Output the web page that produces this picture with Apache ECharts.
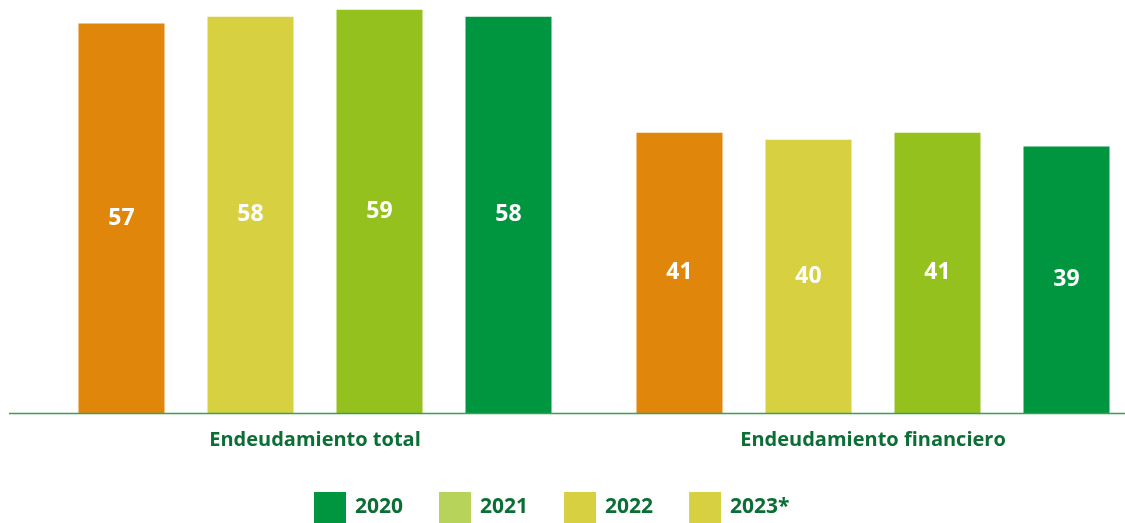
<!DOCTYPE html>
<html>
<head>
<meta charset="utf-8">
<script src="https://cdn.jsdelivr.net/npm/echarts@6/dist/echarts.min.js"></script>
<style>
  html, body { margin: 0; padding: 0; background: #fff; }
  #chart { width: 1125px; height: 523px; }
</style>
</head>
<body>
<div id="chart"></div>
<script>
// categories (x axis)
const categories = ['Endeudamiento total', 'Endeudamiento financiero']
// legend entries / years
const years = ['2020', '2021', '2022', '2023*']
// values per year, one per category
const values2020 = [57, 41]
const values2021 = [58, 40]
const values2022 = [59, 41]
const values2023 = [58, 39]

// bar colours as drawn, legend swatch colours as drawn
const barColors = ['#e0860a', '#d7d041', '#95c11f', '#009640']
const legendColors = ['#009640', '#b8d35a', '#d7d041', '#d7d041']

const seriesValues = [values2020, values2021, values2022, values2023]

const FONT = '"Open Sans", Lato, sans-serif'

const chart = echarts.init(document.getElementById('chart'))

const option = {
  backgroundColor: '#fff',
  animation: false,
  grid: {
    top: 3,
    height: 410,
    left: 36,
    width: 1116,
    outerBoundsMode: 'none'
  },
  legend: {
    top: 492,
    left: 314,
    padding: 0,
    itemWidth: 32,
    itemHeight: 31,
    itemGap: 36,
    icon: 'rect',
    data: years.map((y, i) => ({ name: y, itemStyle: { color: legendColors[i] } })),
    textStyle: {
      color: '#0b6e35',
      fontSize: 21,
      fontWeight: 'bold',
      fontFamily: FONT,
      padding: [0, 0, 0, 4],
      width: 58
    }
  },
  xAxis: {
    type: 'category',
    data: categories,
    axisLine: { show: false },
    axisTick: { show: false },
    axisLabel: {
      margin: 17,
      color: '#0b6e35',
      fontSize: 20,
      fontWeight: 'bold',
      fontFamily: FONT
    }
  },
  yAxis: {
    type: 'value',
    min: 0,
    max: 60,
    show: false,
    splitLine: { show: false }
  },
  series: years.map((y, i) => ({
    name: y,
    type: 'bar',
    data: seriesValues[i],
    barWidth: 86,
    barGap: '50%',
    itemStyle: { color: barColors[i] },
    label: {
      show: true,
      position: 'inside',
      color: '#fff',
      fontSize: 23,
      fontWeight: 'bold',
      fontFamily: FONT
    }
  })),
  graphic: [
    {
      // baseline
      type: 'line',
      shape: { x1: 9, y1: 413.5, x2: 1125, y2: 413.5 },
      style: { stroke: '#3a9e55', lineWidth: 1.5 },
      z: 10
    }
  ]
}

chart.setOption(option)
</script>
</body>
</html>
